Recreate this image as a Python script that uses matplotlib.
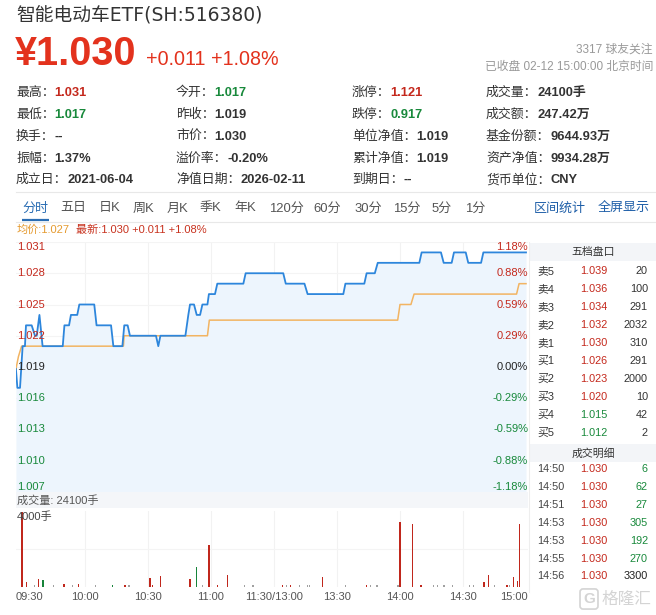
import matplotlib.pyplot as plt
from matplotlib.patches import Rectangle

plt.rcParams['font.family'] = ['Liberation Sans', 'Noto Sans CJK SC', 'DejaVu Sans']

W, H = 656, 615

RED = '#e3321d'
UP = '#c4281c'
DOWN = '#18893b'
TXT = '#333333'

# ---- data ----
title = '智能电动车ETF(SH:516380)'
last_price = '¥1.030'
change_text = '+0.011 +1.08%'
followers = '3317 球友关注'
status = '已收盘 02-12 15:00:00 北京时间'
prev_close = 1.019

info_labels = [
    ['最高：', '今开：', '涨停：', '成交量：'],
    ['最低：', '昨收：', '跌停：', '成交额：'],
    ['换手：', '市价：', '单位净值：', '基金份额：'],
    ['振幅：', '溢价率：', '累计净值：', '资产净值：'],
    ['成立日：', '净值日期：', '到期日：', '货币单位：'],
]
info_values = [
    ['1.031', '1.017', '1.121', '24100手'],
    ['1.017', '1.019', '0.917', '247.42万'],
    ['--', '1.030', '1.019', '9644.93万'],
    ['1.37%', '-0.20%', '1.019', '9934.28万'],
    ['2021-06-04', '2026-02-11', '--', 'CNY'],
]
info_colors = [
    [UP, DOWN, UP, TXT],
    [DOWN, TXT, DOWN, TXT],
    [TXT, TXT, TXT, TXT],
    [TXT, TXT, TXT, TXT],
    [TXT, TXT, TXT, TXT],
]

tabs = ['分时', '五日', '日K', '周K', '月K', '季K', '年K', '120分', '60分', '30分', '15分', '5分', '1分']
avg_text = '均价:1.027'
latest_text = '最新:1.030 +0.011 +1.08%'

# minutes since 09:30 (lunch break removed) and price
blue_min = [-2.9, -2.2, -0.95, 0.3, 1.4, 1.9, 4.6, 6.2, 7.0, 8.3,
            9.8, 19.4, 20.2, 22.4, 23.3, 26.3, 27.3, 34.4, 35.5, 42.4,
            43.5, 47.8, 48.7, 50.3, 51.4, 63.8, 64.9, 65.9, 77.8, 79.2,
            80.0, 81.9, 83.2, 84.8, 85.9, 88.3, 89.0, 91.9, 93.0, 105.4,
            106.5, 124.4, 125.6, 134.5, 136.0, 153.0, 154.0, 163.0, 164.1, 168.0,
            169.4, 189.2, 190.3, 199.5, 200.8, 204.6, 205.7, 211.3, 212.5, 218.6,
            219.7, 240]
blue_px = [1.0188, 1.017, 1.017, 1.021, 1.021, 1.023, 1.023, 1.022, 1.022, 1.024,
           1.021, 1.021, 1.023, 1.023, 1.024, 1.024, 1.025, 1.025, 1.023, 1.023,
           1.021, 1.021, 1.023, 1.023, 1.022, 1.022, 1.021, 1.022, 1.022, 1.024,
           1.025, 1.025, 1.024, 1.024, 1.025, 1.025, 1.026, 1.026, 1.027, 1.027,
           1.028, 1.028, 1.027, 1.027, 1.026, 1.026, 1.027, 1.027, 1.028, 1.028,
           1.029, 1.029, 1.030, 1.030, 1.029, 1.029, 1.030, 1.030, 1.029, 1.029,
           1.030, 1.030]

avg_min = [-2.9, -1.7, -0.2, 48.3, 48.6, 88.3, 89.2, 178.9, 180.0, 185.2, 186.7, 235.5, 236.7, 240]
avg_px = [1.0188, 1.020, 1.021, 1.021, 1.022, 1.022, 1.0235, 1.0235, 1.025, 1.025, 1.026, 1.026, 1.027, 1.027]

price_ticks = [1.031, 1.028, 1.025, 1.022, 1.019, 1.016, 1.013, 1.010, 1.007]

vol_min = [0, 2, 6, 8, 10, 15, 20, 24, 27, 35, 43, 49, 51, 61, 62, 66, 80, 83, 86, 89,
           93, 98, 106, 110, 124, 126, 128, 132, 136, 137, 143, 154, 164, 166, 169, 179,
           180, 186, 190, 196, 198, 201, 205, 213, 215, 220, 222, 225, 231, 232, 234, 236, 237]
vol_val = [3950, 260, 80, 440, 350, 80, 160, 80, 160, 80, 80, 80, 80, 470, 120, 600, 420, 1050, 80, 2210,
           100, 630, 80, 80, 80, 80, 120, 80, 80, 80, 530, 80, 80, 80, 80, 80,
           3420, 3330, 80, 80, 80, 80, 80, 80, 80, 245, 630, 80, 80, 80, 530, 300, 3330]
vol_dir = ['u', 'u', 'n', 'u', 'd', 'n', 'u', 'n', 'u', 'n', 'd', 'u', 'n', 'u', 'u', 'u', 'u', 'd', 'n', 'u',
           'u', 'u', 'n', 'n', 'u', 'n', 'u', 'n', 'n', 'n', 'u', 'n', 'u', 'n', 'n', 'n',
           'u', 'u', 'u', 'n', 'n', 'n', 'n', 'n', 'n', 'u', 'u', 'n', 'u', 'n', 'u', 'u', 'u']

time_ticks = [0, 30, 60, 90, 120, 150, 180, 210, 240]
time_labels = ['09:30', '10:00', '10:30', '11:00', '11:30/13:00', '13:30', '14:00', '14:30', '15:00']
total_vol = '成交量: 24100手'
vol_top = '4000手'

book_labels = ['卖5', '卖4', '卖3', '卖2', '卖1', '买1', '买2', '买3', '买4', '买5']
book_prices = [1.039, 1.036, 1.034, 1.032, 1.030, 1.026, 1.023, 1.020, 1.015, 1.012]
book_vols = [20, 100, 291, 2032, 310, 291, 2000, 10, 42, 2]

trade_times = ['14:50', '14:50', '14:51', '14:53', '14:53', '14:55', '14:56']
trade_prices = [1.030, 1.030, 1.030, 1.030, 1.030, 1.030, 1.030]
trade_vols = [6, 62, 27, 305, 192, 270, 3300]
trade_side = ['s', 's', 's', 's', 's', 's', 'n']


fig = plt.figure(figsize=(W / 100, H / 100), dpi=100)


def px_axes(x0, y0, x1, y1):
    a = fig.add_axes([x0 / W, 1 - y1 / H, (x1 - x0) / W, (y1 - y0) / H])
    for s in a.spines.values():
        s.set_visible(False)
    a.set_xticks([])
    a.set_yticks([])
    return a


def price_color(p):
    if p > prev_close + 1e-9:
        return UP
    if p < prev_close - 1e-9:
        return DOWN
    return '#222222'


# ---- intraday price chart ----
ax = px_axes(16, 242, 528, 492)
ax.set_xlim(-2.86, 240.95)
ax.set_ylim(1.007, 1.031)
for m in time_ticks[1:-1]:
    ax.axvline(m, color='#f2f2f2', lw=0.8, zorder=0)
for p in price_ticks:
    ax.axhline(p, color='#f4f4f4', lw=0.8, zorder=0)
ax.fill_between(blue_min, blue_px, 1.007, color='#edf5fd', lw=0, zorder=1)
ax.plot(avg_min, avg_px, color='#f2b462', lw=1.1, zorder=2)
ax.plot(blue_min, blue_px, color='#2d86dc', lw=1.3, zorder=3)

for p in price_ticks:
    va = 'center'
    if p == price_ticks[0]:
        va = 'top'
    elif p == price_ticks[-1]:
        va = 'bottom'
    pct = (p - prev_close) / prev_close * 100
    ax.text(0.002, p, f'{p:.3f}', transform=ax.get_yaxis_transform(), fontsize=8,
            color=price_color(p), va=va, ha='left', zorder=5)
    ax.text(1.0, p, f'{pct:.2f}%', transform=ax.get_yaxis_transform(), fontsize=8,
            color=price_color(p), va=va, ha='right', zorder=5)

# ---- volume chart ----
av = px_axes(16, 511, 528, 587)
av.set_xlim(-2.86, 240.95)
av.set_ylim(0, 4000)
for m in time_ticks[1:-1]:
    av.axvline(m, color='#f2f2f2', lw=0.8, zorder=0)
av.axhline(2000, color='#f4f4f4', lw=0.8, zorder=0)
colors = {'u': '#c0271c', 'd': '#17843a', 'n': '#a0a0a0'}
av.bar(vol_min, vol_val, width=0.65, color=[colors[d] for d in vol_dir], lw=0, zorder=2)
av.text(0.002, 0.99, vol_top, transform=av.transAxes, fontsize=8, color='#444444',
        va='top', ha='left', zorder=5)
for m, lab in zip(time_ticks, time_labels):
    ha = 'center'
    if m == time_ticks[0]:
        ha = 'left'
        m = av.get_xlim()[0]
    elif m == time_ticks[-1]:
        ha = 'right'
        m = av.get_xlim()[1]
    av.text(m, -0.13, lab, transform=av.get_xaxis_transform(), fontsize=8,
            color='#555555', ha=ha, va='center')

# ---- overlay for header, tabs and order book ----
ov = fig.add_axes([0, 0, 1, 1], facecolor='none')
ov.set_xlim(0, W)
ov.set_ylim(H, 0)
ov.axis('off')

ov.text(16, 22, title, fontsize=13.5, color='#333333', va='baseline',
        family=['DejaVu Sans', 'Noto Sans CJK SC'])
ov.text(15, 65, last_price, fontsize=28.5, weight='bold', color=RED, va='baseline')
ov.text(146, 65, change_text, fontsize=14.2, color=RED, va='baseline')
ov.text(653, 50, followers, fontsize=8.5, color='#999999', ha='right', va='center')
ov.text(653, 67, status, fontsize=8.5, color='#999999', ha='right', va='center')

col_x = [16, 176, 352, 486]
row_y = [93, 114.5, 136.5, 159, 180]
for r in range(len(info_labels)):
    for c in range(4):
        lab = ov.text(col_x[c], row_y[r], info_labels[r][c], fontsize=9.3, color='#333333', va='center')
        ov.annotate(info_values[r][c], xy=(1, 0.5), xycoords=lab, va='center', ha='left',
                    fontsize=9.3, weight='bold', color=info_colors[r][c])

ov.plot([16, 656], [192, 192], color='#e8e8e8', lw=0.8)

tab_x = [22, 60, 99, 133, 167, 200, 234, 269, 313, 354, 393, 432, 465]
for i, (t, x) in enumerate(zip(tabs, tab_x)):
    ov.text(x, 208.5, t, fontsize=9.4, color='#2a6db3' if i == 0 else '#555555', va='center')
ov.text(534, 208.5, '区间统计', fontsize=9.4, color='#1f5fa8', va='center')
ov.text(598, 208.5, '全屏显示', fontsize=9.4, color='#1f5fa8', va='center')
ov.plot([16, 656], [221.5, 221.5], color='#e8e8e8', lw=0.8)
ov.plot([22, 49], [219.5, 219.5], color='#2a6db3', lw=1.6, solid_capstyle='butt')

ov.text(16.5, 230, avg_text, fontsize=8, color='#e59a2f', va='center')
ov.text(76.5, 230, latest_text, fontsize=8, color='#c8321e', va='center')

# volume header band
ov.add_patch(Rectangle((16, 492), 512, 16, color='#f4f6f9', lw=0))
ov.text(17, 500, total_vol, fontsize=8, color='#555555', va='center')

# order book
ov.plot([529, 529], [242, 592], color='#eeeeee', lw=0.8)
ov.add_patch(Rectangle((529, 243), 127, 18, color='#f3f5f8', lw=0))
ov.text(593, 252, '五档盘口', fontsize=7.8, color='#333333', ha='center', va='center')
for i, (lab, p, v) in enumerate(zip(book_labels, book_prices, book_vols)):
    y = 270.7 + 18 * i
    ov.text(537, y, lab, fontsize=7.8, color='#333333', va='center')
    ov.text(594, y, f'{p:.3f}', fontsize=7.8, color=price_color(p), ha='center', va='center')
    ov.text(648, y, str(v), fontsize=7.8, color='#333333', ha='right', va='center')

ov.add_patch(Rectangle((529, 444), 127, 18, color='#f3f5f8', lw=0))
ov.text(593, 453, '成交明细', fontsize=7.8, color='#333333', ha='center', va='center')
for i, (tm, p, v, s) in enumerate(zip(trade_times, trade_prices, trade_vols, trade_side)):
    y = 469.5 + 17.8 * i
    ov.text(537, y, tm, fontsize=7.8, color='#444444', va='center')
    ov.text(594, y, f'{p:.3f}', fontsize=7.8, color=price_color(p), ha='center', va='center')
    ov.text(648, y, str(v), fontsize=7.8, color=DOWN if s == 's' else '#222222',
            ha='right', va='center')

# watermark
ov.text(589, 599, 'G', fontsize=11, weight='bold', color='#d4d4d4', ha='center', va='center',
        bbox=dict(boxstyle='round,pad=0.2', fc='none', ec='#d4d4d4', lw=1.2))
ov.text(602, 599, '格隆汇', fontsize=12, color='#d4d4d4', va='center')

fig.savefig('out.png', dpi=100)
